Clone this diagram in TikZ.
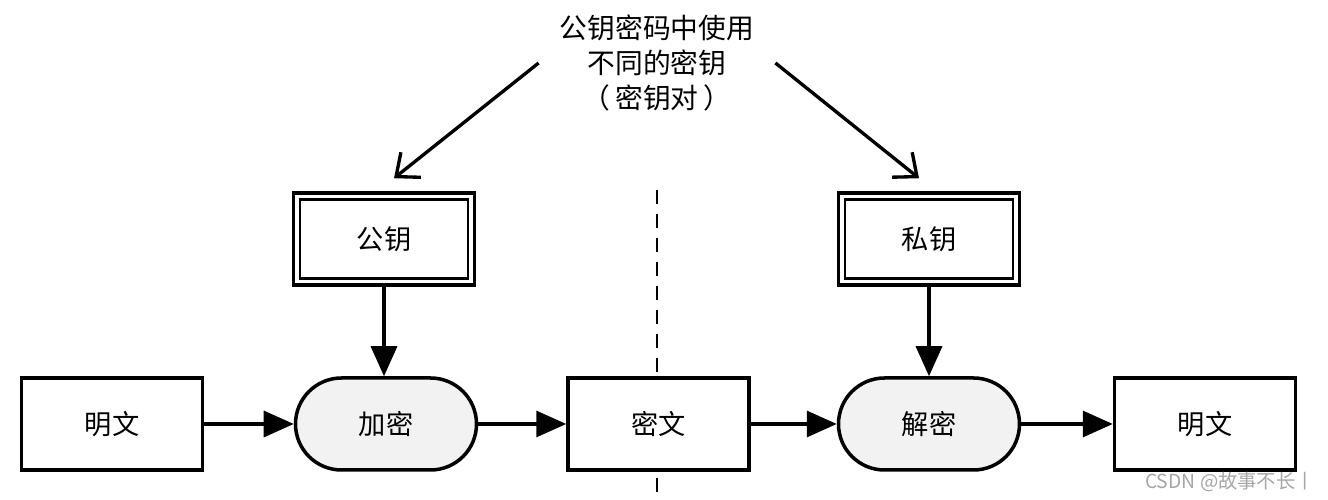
\documentclass[tikz,border=0pt]{standalone}
\usepackage{fontspec}
\setmainfont{Noto Sans CJK SC}
\usetikzlibrary{arrows.meta,calc}

\begin{document}
\begin{tikzpicture}[
    box/.style={draw, fill=white, line width=2pt, minimum width=3.62cm, minimum height=1.84cm,
        font=\fontsize{15.5}{18}\selectfont},
    proc/.style={box, rounded corners=0.92cm, fill=gray!10},
    keybox/.style={box, path picture={
        \draw[line width=1.2pt] ([shift={(0.13,0.13)}]path picture bounding box.south west)
            rectangle ([shift={(-0.13,-0.13)}]path picture bounding box.north east);}},
    flow/.style={line width=1.9pt, -{Triangle[length=6mm,width=5.2mm]}},
    pick/.style={line width=1.9pt, -{Straight Barb[length=3.8mm,width=6.4mm,line width=1.9pt]}}
  ]
    \useasboundingbox (0,0) rectangle (26.56,10);
    % divider
    \draw[line width=1.6pt, dash pattern=on 0.28cm off 0.2cm] (13.14,6.2) -- (13.14,0.06);
    % top remark
    \node[align=center, font=\fontsize{15.8}{20}\selectfont] (remark) at (13.14,8.74)
        {公钥密码中使用\\不同的密钥\\（\,密钥对\,）};
    % keys
    \node[keybox] (pubkey) at (7.68,5.22) {公钥};
    \node[keybox] (prikey) at (18.58,5.22) {私钥};
    % main row
    \node[box]  (plain1) at (2.24,1.52) {明文};
    \node[proc] (enc)    at (7.72,1.52) {加密};
    \node[box]  (cipher) at (13.17,1.52) {密文};
    \node[proc] (dec)    at (18.58,1.52) {解密};
    \node[box]  (plain2) at (24.1,1.52) {明文};
    \draw[flow] (plain1) -- (enc);
    \draw[flow] (enc) -- (cipher);
    \draw[flow] (cipher) -- (dec);
    \draw[flow] (dec) -- (plain2);
    \draw[flow] (pubkey) -- (pubkey |- enc.north);
    \draw[flow] (prikey) -- (prikey |- dec.north);
    \draw[pick] ([xshift=-3mm]remark.west) -- ([xshift=2mm,yshift=2.6mm]pubkey.north);
    \draw[pick] ([xshift=3mm]remark.east) -- ([xshift=-2mm,yshift=2.6mm]prikey.north);
    \node[text=gray!70, font=\fontsize{11}{13}\selectfont] (mark) at (24.6,0.36) {CSDN @故事不长丨};
\end{tikzpicture}
\end{document}
